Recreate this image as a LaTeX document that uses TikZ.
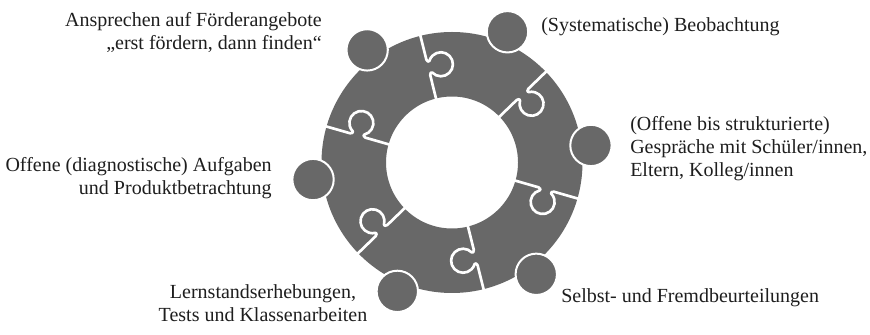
\documentclass[tikz,border=0pt]{standalone}
\usepackage{fontspec}
\setmainfont{Liberation Serif}
\definecolor{ringgray}{RGB}{104,104,104}
\definecolor{txt}{RGB}{30,30,30}
\tikzset{
  lbl/.style={inner sep=0pt, text=txt, font=\fontsize{15}{17.25}\selectfont},
  dot/.style={circle, fill=ringgray, draw=white, line width=1.5pt, minimum size=31pt, inner sep=0pt},
  seam/.style={draw=white, line width=2pt, line join=round, line cap=round}
}
\begin{document}
\begin{tikzpicture}[x=0.75pt,y=0.75pt]
\useasboundingbox[fill=white] (0,0) rectangle (870,335);
\begin{scope}[shift={(452,172.5)}]
  \fill[ringgray, even odd rule] (0,0) circle[radius=130.5] (0,0) circle[radius=66];
  \foreach \a in {104,44,-16,-76,-136,164} {
    \draw[seam, rotate=\a] (58,0) -- (90,0) .. controls (92.5,0) and (92.9,-2.09) .. (92,-2.61)
      arc[start angle=120, end angle=420, radius=12]
      .. controls (103.1,-2.09) and (103.5,0) .. (106,0) -- (136,0);
  }
  \node[dot] (d1) at (127:141) {};
  \node[dot] (d2) at (67:142) {};
  \node[dot] (d3) at (7:140) {};
  \node[dot] (d4) at (-53:140) {};
  \node[dot] (d5) at (-113:140) {};
  \node[dot] (d6) at (-173:140) {};
\end{scope}
\node[lbl, align=right, anchor=base east] (l1) at (322,285.7) {Ansprechen auf Förderangebote\\„erst fördern, dann finden“};
\node[lbl, anchor=base west] (l2) at (541,303.5) {(Systematische) Beobachtung};
\node[lbl, align=left, anchor=base west] (l3) at (630,158.5) {(Offene bis strukturierte)\\Gespräche mit Schüler/innen,\\Eltern, Kolleg/innen};
\node[lbl, anchor=base west] (l4) at (561,32.5) {Selbst- und Fremdbeurteilungen};
\node[lbl, align=center, anchor=base] (l5) at (263,13.3) {Lernstandserhebungen,\\Tests und Klassenarbeiten};
\node[lbl, align=right, anchor=base east] (l6) at (272,140) {Offene (diagnostische) Aufgaben\\und Produktbetrachtung};
\end{tikzpicture}
\end{document}
